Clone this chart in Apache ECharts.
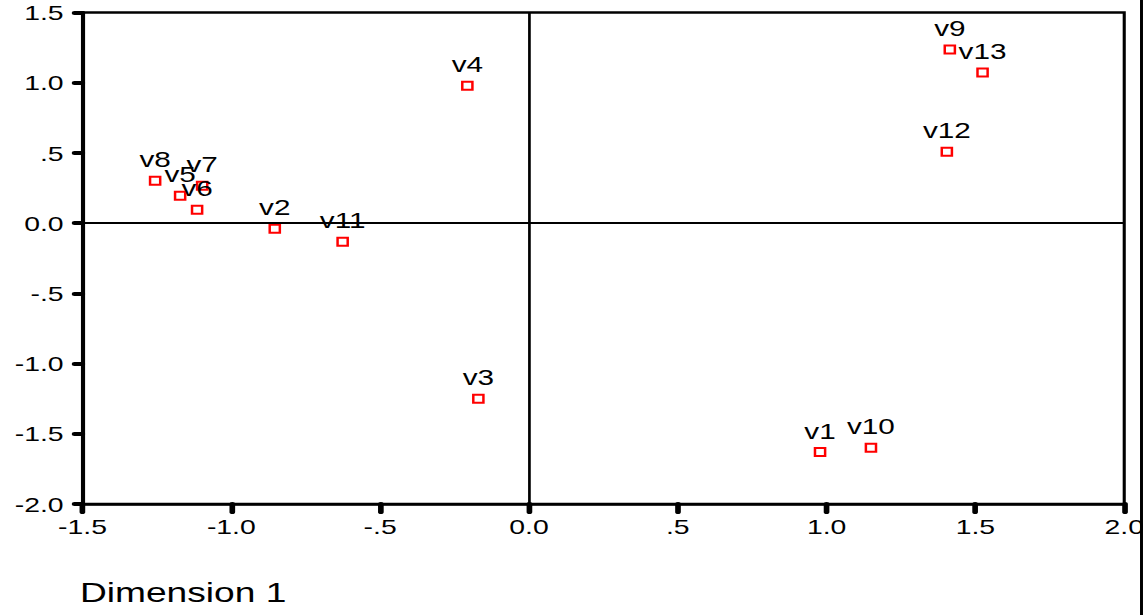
<!DOCTYPE html>
<html><head><meta charset="utf-8">
<script src="https://cdn.jsdelivr.net/npm/echarts@6/dist/echarts.min.js"></script>
<style>
html,body{margin:0;padding:0;background:#fff;overflow:hidden;width:1148px;height:615px}
#wrap{width:1148px;height:615px;overflow:hidden;position:relative;background:#fff}
#c{width:850px;height:615px;transform:scaleX(1.350588);transform-origin:0 0;}
</style></head><body><div id="wrap"><div id="c"></div></div>
<script>
// Data
const names = ['v1','v2','v3','v4','v5','v6','v7','v8','v9','v10','v11','v12','v13'];
const dim1  = [0.978,-0.854,-0.170,-0.207,-1.172,-1.115,-1.098,-1.256,1.414,1.149,-0.626,1.404,1.524];
const dim2  = [-1.629,-0.040,-1.251,0.979,0.195,0.095,0.267,0.302,1.236,-1.600,-0.133,0.509,1.072];
const xTickLabels = ['-1.5','-1.0','-.5','0.0','.5','1.0','1.5','2.0'];
const yTickLabels = ['-2.0','-1.5','-1.0','-.5','0.0','.5','1.0','1.5'];
const xTitle = 'Dimension 1';

const S = 1.350588; // horizontal stretch of the reference image
const W = 850;
const font = 'Liberation Sans, Arial, sans-serif';

const pts = names.map((n,i)=>({name:n, value:[dim1[i], dim2[i]]}));

const chart = echarts.init(document.getElementById('c'), null, {renderer:'svg', width:W, height:615});
chart.setOption({
  backgroundColor:'#fff',
  animation:false,
  grid:{left:82.5/S, right:W-1127/S, top:12.5, bottom:111, show:true, borderColor:'#000', borderWidth:2.3, containLabel:false},
  xAxis:{
    type:'value', min:-1.5, max:2.0, interval:0.5,
    axisLine:{show:true, onZero:false, lineStyle:{color:'#000', width:2.6}},
    axisTick:{show:true, length:8, lineStyle:{color:'#000', width:4.2, cap:'round'}},
    splitLine:{show:false},
    axisLabel:{margin:12, color:'#000', fontSize:21, fontFamily:font,
      formatter:v=>xTickLabels[Math.round((v+1.5)/0.5)]}
  },
  yAxis:{
    type:'value', min:-2.0, max:1.5, interval:0.5,
    axisLine:{show:true, onZero:false, lineStyle:{color:'#000', width:3}},
    axisTick:{show:true, length:6, lineStyle:{color:'#000', width:4, cap:'round'}},
    splitLine:{show:false},
    axisLabel:{margin:14, color:'#000', fontSize:21, fontFamily:font,
      formatter:v=>yTickLabels[Math.round((v+2.0)/0.5)]}
  },
  series:[{
    type:'scatter',
    data:pts,
    symbol:'rect',
    symbolSize:[7.5,8],
    itemStyle:{color:'#fff', borderColor:'#ff0000', borderWidth:1.9, opacity:1},
    label:{show:true, position:'top', distance:5, offset:[-2,0], formatter:'{b}', color:'#000', fontSize:22, fontFamily:font},
    labelLayout:{hideOverlap:false},
    markLine:{
      silent:true, symbol:['none','none'], animation:false,
      label:{show:false},
      lineStyle:{color:'#000', width:2, type:'solid'},
      data:[{xAxis:0},{yAxis:0}]
    },
    z:3
  }],
  graphic:[
    {type:'text', left:80/S, top:578, style:{text:xTitle, fontSize:27.5, fontFamily:font, fill:'#000'}},
    {type:'rect', shape:{x:1143/S, y:0, width:20, height:615}, style:{fill:'#fff'}, z:100},
    {type:'line', shape:{x1:1141.5/S, y1:0, x2:1141.5/S, y2:615}, style:{stroke:'#000', lineWidth:2.2}, z:101}
  ]
});
</script></body></html>
